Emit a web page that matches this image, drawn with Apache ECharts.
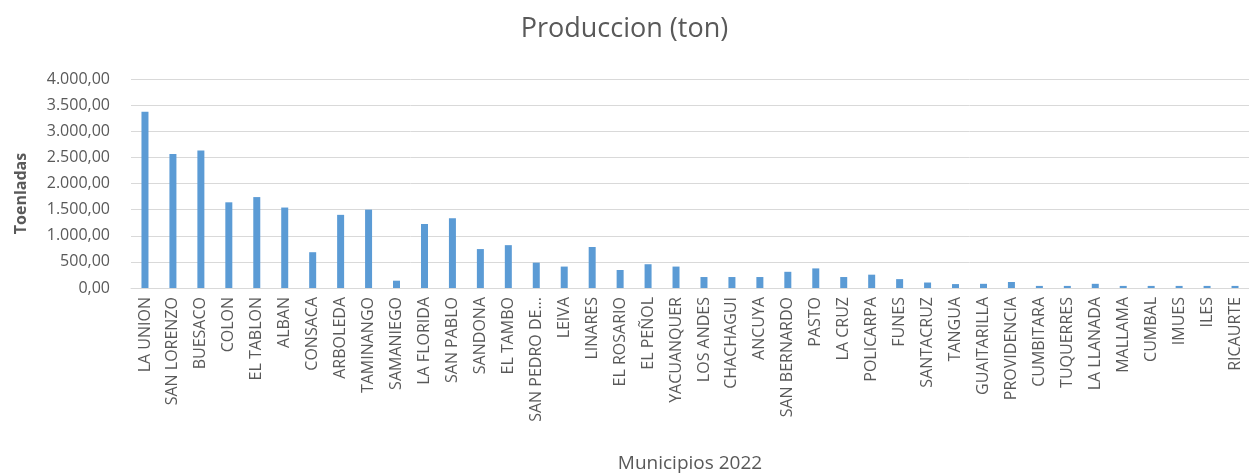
<!DOCTYPE html>
<html>
<head>
<meta charset="utf-8">
<script src="https://cdn.jsdelivr.net/npm/echarts@6/dist/echarts.min.js"></script>
<style>html,body{margin:0;padding:0;background:#fff;}#c{width:1249px;height:475px;}</style>
</head>
<body>
<div id="c"></div>
<script>
const categories = ["LA UNION","SAN LORENZO","BUESACO","COLON","EL TABLON","ALBAN","CONSACA","ARBOLEDA","TAMINANGO","SAMANIEGO",
  "LA FLORIDA","SAN PABLO","SANDONA","EL TAMBO","SAN PEDRO DE CARTAGO","LEIVA","LINARES","EL ROSARIO","EL PEÑOL","YACUANQUER",
  "LOS ANDES","CHACHAGUI","ANCUYA","SAN BERNARDO","PASTO","LA CRUZ","POLICARPA","FUNES","SANTACRUZ","TANGUA",
  "GUAITARILLA","PROVIDENCIA","CUMBITARA","TUQUERRES","LA LLANADA","MALLAMA","CUMBAL","IMUES","ILES","RICAURTE"];
const produccion = [3375,2565,2630,1640,1740,1540,685,1400,1500,140,
  1225,1335,745,820,485,410,785,345,455,410,
  210,210,210,310,375,210,255,170,105,75,
  80,115,40,40,80,40,40,40,40,40];
const yTicks = {min:0, max:4000, interval:500};
const titleText = "Produccion (ton)";
const xName = "Municipios 2022";
const yName = "Toenladas";

function fmt(v){
  const s = Math.round(v).toString().replace(/\B(?=(\d{3})+(?!\d))/g, '.');
  return s + ',00';
}
const chart = echarts.init(document.getElementById('c'), null, {renderer:'canvas'});
const txt = '#595959';
const ff = '"Open Sans", "Liberation Sans", sans-serif';
chart.setOption({
  animation:false,
  backgroundColor:'#fff',
  title:{text:titleText, left:'center', top:11, padding:[5,0,5,11],
    textStyle:{color:txt, fontSize:27, fontWeight:'normal', fontFamily:ff}},
  grid:{left:131, right:-8, top:79, bottom:187, containLabel:false},
  xAxis:{type:'category', data:categories,
    name:xName, nameLocation:'middle', nameGap:166,
    nameTextStyle:{color:txt, fontSize:19, fontFamily:ff},
    axisLine:{lineStyle:{color:'#d9d9d9', width:1}},
    axisTick:{show:false},
    axisLabel:{rotate:90, interval:0, color:txt, fontSize:16, fontFamily:ff, margin:9,
      formatter:function(v){return v.length>16 ? v.slice(0,12)+'...' : v;}}},
  yAxis:{type:'value', min:yTicks.min, max:yTicks.max, interval:yTicks.interval,
    name:yName, nameLocation:'middle', nameGap:102, nameRotate:90,
    nameTextStyle:{color:txt, fontSize:16, fontWeight:'bold', fontFamily:ff, padding:[0,20,0,0]},
    axisLine:{show:false}, axisTick:{show:false},
    splitLine:{lineStyle:{color:'#d9d9d9', width:1}},
    axisLabel:{color:txt, fontSize:16, fontFamily:ff, margin:21, formatter:fmt}},
  series:[{type:'bar', data:produccion, barWidth:7,
    itemStyle:{color:'#5B9BD5'}}]
});
</script>
</body>
</html>
